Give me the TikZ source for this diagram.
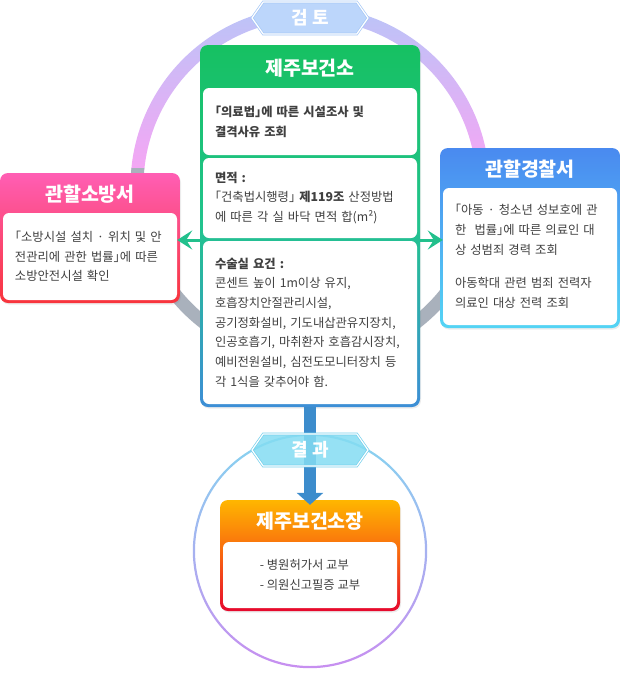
\documentclass[tikz,border=0pt]{standalone}
\usepackage{fontspec}
\setmainfont{Noto Sans CJK KR}[RawFeature=+halt]
\usetikzlibrary{positioning, arrows.meta, shapes.symbols, shadows}

\definecolor{ringtop}{HTML}{B8C6F8}
\definecolor{ringside}{HTML}{F4A6F4}
\definecolor{ringgray}{HTML}{A9B1BC}
\definecolor{lowtop}{HTML}{84D6F0}
\definecolor{lowbot}{HTML}{C88EF0}
\definecolor{hgreen}{HTML}{16C162}
\definecolor{hteal}{HTML}{22C38E}
\definecolor{hblue}{HTML}{3D8ED6}
\definecolor{fpink}{HTML}{FF5EB4}
\definecolor{fred}{HTML}{F8343C}
\definecolor{pblue}{HTML}{4A8AF0}
\definecolor{pcyan}{HTML}{54D4F4}
\definecolor{oyel}{HTML}{FFB600}
\definecolor{oorg}{HTML}{F86410}
\definecolor{ored}{HTML}{E6082E}
\definecolor{arrgreen}{HTML}{22C08C}
\definecolor{arrblue}{HTML}{3C8CCC}
\definecolor{badgeA}{HTML}{BCD6FB}
\definecolor{badgeAedge}{HTML}{A6C8F6}
\definecolor{badgeB}{HTML}{84DCF2}
\definecolor{badgeBedge}{HTML}{76D0EC}
\definecolor{ink}{HTML}{404040}

\newcommand\bodyfont{\fontsize{12.3}{19.7}\selectfont}
\newcommand\headfont{\fontsize{19.5}{21}\selectfont\bfseries}
\newcommand\badgefont{\fontsize{18}{20}\selectfont\bfseries}

\begin{document}
\begin{tikzpicture}[
  x=1pt, y=-1pt,
  card/.style={rounded corners=8pt, inner sep=0pt,
               drop shadow={opacity=0.15, shadow xshift=1pt, shadow yshift=-1.5pt}},
  pane/.style={fill=white, rounded corners=6pt, inner xsep=12pt, inner ysep=0pt,
               align=left, font=\bodyfont, text=ink},
  head/.style={font=\headfont, text=white},
  badge/.style={signal, signal to=east and west, signal pointer angle=110,
                line width=0.7pt, double distance=1.2pt, double=white,
                minimum width=116pt, minimum height=32pt, inner sep=0pt,
                font=\badgefont, text=white},
  greenarr/.style={line width=3pt, draw=arrgreen, -{Stealth[length=15pt, width=19pt, inset=6pt]}},
  downarr/.style={line width=12pt, draw=arrblue, -{Triangle[length=12pt, width=26pt]}}
]
\useasboundingbox (0,0) rectangle (620,673);

% review ring
\begin{scope}[even odd rule]
  \clip (310,186) circle[radius=179.5pt] (310,186) circle[radius=166.5pt];
  \shade[top color=ringtop, bottom color=ringside] (120,0) rectangle (500,168);
  \fill[ringgray] (120,168) rectangle (500,370);
\end{scope}

% result ring
\begin{scope}[even odd rule]
  \clip (310,551) circle[radius=117.2pt] (310,551) circle[radius=115pt];
  \shade[top color=lowtop, bottom color=lowbot] (190,430) rectangle (430,670);
\end{scope}

% health center
\node[card, minimum width=220pt, minimum height=362pt,
      top color=hgreen, bottom color=hblue, middle color=hteal] (hc) at (310,226) {};
\node[head] (hctitle) at (310,68) {제주보건소};
\node[pane, text width=190pt, minimum height=67pt, font=\bodyfont\bfseries] (law) at (310,121.5)
  {「의료법」에 따른 시설조사 및\\결격사유 조회};
\node[pane, text width=190pt, minimum height=80pt] (area) at (310,198)
  {\textbf{면적 :}\\「건축법시행령」 \textbf{제119조} 산정방법\\에 따른 각 실 바닥 면적 합(m²)};
\node[pane, text width=190pt, minimum height=163pt] (room) at (310,322.5)
  {\textbf{수술실 요건 :}\\콘센트 높이 1m이상 유지,\\호흡장치안절관리시설,\\공기정화설비, 기도내삽관유지장치,\\인공호흡기, 마취환자 호흡감시장치,\\예비전원설비, 심전도모니터장치 등\\각 1식을 갖추어야 함.};

% fire station
\node[card, minimum width=180pt, minimum height=130pt,
      top color=fpink, bottom color=fred] (fire) at (90,238) {};
\node[head] (firetitle) at (90,194) {관할소방서};
\node[pane, text width=150pt, minimum height=87pt] (firetext) at (90,256.5)
  {「소방시설 설치 · 위치 및 안\\전관리에 관한 법률」에 따른\\소방안전시설 확인};

% police station
\node[card, minimum width=180pt, minimum height=180pt,
      top color=pblue, bottom color=pcyan] (police) at (530,238) {};
\node[head] (policetitle) at (530,169) {관할경찰서};
\node[pane, text width=150pt, minimum height=137pt] (policetext) at (530,256.5)
  {「아동 · 청소년 성보호에 관\\한~~법률」에 따른 의료인 대\\상 성범죄 경력 조회\\[14pt]아동학대 관련 범죄 전력자\\의료인 대상 전력 조회};

% director
\node[card, minimum width=180pt, minimum height=111pt,
      top color=oyel, bottom color=ored, middle color=oorg] (boss) at (310,555.5) {};
\node[head] (bosstitle) at (310,521) {제주보건소장};
\node[pane, minimum width=174pt, minimum height=66pt] (bosstext) at (310,575)
  {- 병원허가서 교부\\- 의원신고필증 교부};

% result arrow and badges
\coordinate (bosstip) at ([yshift=-5pt]boss.north);
\draw[downarr] (hc.south) -- (bosstip);

\node[badge, draw=badgeAedge, fill=badgeA] (review) at (310,18) {검 토};
\node[badge, draw=badgeBedge, fill=badgeB, fill opacity=0.85, text opacity=1] (result) at (310,450) {결 과};

% cooperation arrows
\coordinate (split) at (0,240);
\draw[greenarr] (hc.west |- split) -- (firetext.east |- split);
\draw[greenarr] (hc.east |- split) -- (policetext.west |- split);
\end{tikzpicture}
\end{document}
